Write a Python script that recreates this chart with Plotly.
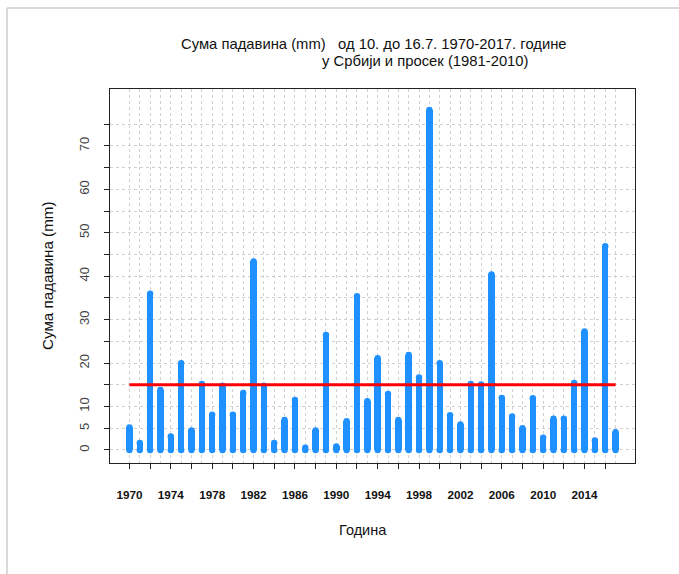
import plotly.graph_objects as go

# Weekly precipitation sums (mm), 10-16 July, Serbia
years = list(range(1970, 2018))
precip = [5.2, 1.6, 36.0, 13.8, 3.1, 20.0, 4.5, 15.2, 8.1, 14.8,
          8.1, 13.1, 43.4, 14.8, 1.6, 6.9, 11.5, 0.5, 4.5, 26.5,
          0.8, 6.6, 35.4, 11.2, 21.1, 12.9, 6.9, 21.9, 16.7, 78.3,
          20.0, 8.0, 5.9, 15.2, 15.1, 40.4, 12.0, 7.7, 5.0, 11.9,
          2.8, 7.2, 7.2, 15.4, 27.3, 2.2, 46.9, 4.1]
normal_1981_2010 = 15.0

x_tick_years = list(range(1970, 2017, 2))
x_tick_text = [str(y) if (y - 1970) % 4 == 0 else "" for y in x_tick_years]
y_tick_vals = list(range(0, 80, 5))
y_labelled = [0, 5, 10, 20, 30, 40, 50, 60, 70]
y_tick_text = [str(v) if v in y_labelled else "" for v in y_tick_vals]

W, H = 679, 574
L, R, T, B = 110, 44, 89, 111
PW, PH = W - L - R, H - T - B

def px(xp):
    return (xp - L) / PW

def py(yp):
    return (H - B - yp) / PH

BLUE = "#1E90FF"
FONT = "Liberation Sans, Arial, sans-serif"

fig = go.Figure()

# thick vertical bars with rounded ends
fig.add_trace(go.Bar(x=years, y=precip, width=0.62, marker=dict(color=BLUE, line_width=0),
                     showlegend=False, hoverinfo="skip"))
fig.add_trace(go.Scatter(x=years + years, y=precip + [0] * len(years), mode="markers",
                         marker=dict(color=BLUE, size=6.4, line_width=0),
                         showlegend=False, hoverinfo="skip"))

# 1981-2010 average
fig.add_trace(go.Scatter(x=[years[0], years[-1]], y=[normal_1981_2010] * 2, mode="lines",
                         line=dict(color="#FF0000", width=3), showlegend=False))

grid = dict(showgrid=True, gridcolor="#cfcfcf", gridwidth=1, griddash="dot")

fig.update_xaxes(range=[1968.12, 2018.88], tickmode="array", tickvals=x_tick_years,
                 ticktext=x_tick_text, ticks="outside", ticklen=5, tickcolor="#222",
                 tickfont=dict(family=FONT, size=11.7, color="#111", weight="bold"),
                 ticklabelstandoff=16,
                 showline=True, linecolor="#222", linewidth=1, mirror=True, zeroline=False,
                 minor=dict(tickvals=years, ticks="", **grid), **grid)
fig.update_yaxes(range=[-3.0, 83.1], tickmode="array", tickvals=y_tick_vals,
                 ticktext=y_tick_text, ticks="outside", ticklen=5, tickcolor="#222",
                 tickangle=-90, tickfont=dict(family=FONT, size=13, color="#444"),
                 ticklabelstandoff=10,
                 showline=True, linecolor="#222", linewidth=1, mirror=True, zeroline=False,
                 **grid)

annotations = [
    dict(text="Сума падавина (mm)   од 10. до 16.7. 1970-2017. године", x=px(179), y=py(44),
         xanchor="left", yanchor="middle", font=dict(size=14.8)),
    dict(text="у Србији и просек (1981-2010)", x=px(320), y=py(61),
         xanchor="left", yanchor="middle", font=dict(size=14.8)),
    dict(text="Година", x=px(363), y=py(530), xanchor="center", yanchor="middle",
         font=dict(size=14.5)),
    dict(text="Сума падавина (mm)", x=px(47), y=py(276), xanchor="center", yanchor="middle",
         textangle=-90, font=dict(size=15.2)),
]
for a in annotations:
    a.update(xref="paper", yref="paper", showarrow=False)
    a["font"].update(family=FONT, color="#111")

# light page frame
frame = dict(type="line", xref="paper", yref="paper", line=dict(color="#d9d9d9", width=2))
shapes = [
    dict(frame, x0=px(7), x1=px(W + 2), y0=py(8), y1=py(8)),
    dict(frame, x0=px(7), x1=px(7), y0=py(8), y1=py(H + 2)),
]

fig.update_layout(width=W, height=H, margin=dict(l=L, r=R, t=T, b=B, autoexpand=False),
                  paper_bgcolor="white", plot_bgcolor="white", bargap=0,
                  annotations=annotations, shapes=shapes,
                  font=dict(family=FONT))

fig.write_html("out.html")
